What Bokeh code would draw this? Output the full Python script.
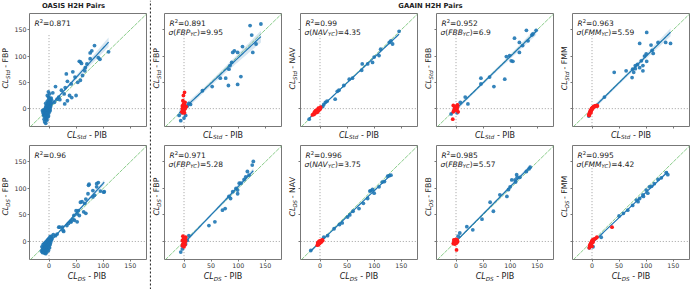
import numpy as np
from bokeh.plotting import figure
from bokeh.models import Range1d, FixedTicker, Label
from bokeh.layouts import row, column
from bokeh.embed import file_html
from bokeh.resources import INLINE
from bokeh.core.properties import value

FONT = "DejaVu Sans"
BLUE = "#1f77b4"
RED = "#ff1a1a"
GREEN = "#5cb85c"
TEXT = "#222222"
FRAME = "#777777"

X_LIM = (-36, 180)
Y_LIM = (-34, 181)
TICKS = [0, 50, 100, 150]

# ---------------- OASIS (PIB vs FBP) ----------------
oasis_std_pib = [84, 110, 76, 76, 58, 56, 60, 70, 67, 44, 32, 48, 41, 58, 34, 12, 23, 30, 50, 38,
                 34, 28, 18, 7, 91, 94, 79, 53, 62, 66, 20, 29, 42, 10, 15,
                 -8, -6, -5, -4, -3, -2, -1, 0, 1, 2, -7, -5, -3, -1, 1, 3, -9, -6, -4, -2,
                 0, 2, 4, -10, -8, -6, -4, -2, 0, -11, -7, -5, -3, -1, 1, -12, -9, -6, -4, -2,
                 -8, -6, -3, -1, 2, -5, -3, 0, 3, -2, 0, 2, 4, 5, -7, -4, -1, -9, -6, -3,
                 -1, 1, -10, -5, -2]
oasis_std_fbp = [120, 108, 106, 95, 89, 90, 86, 85, 78, 70, 66, 60, 47, 54, 52, 42, 35, 40, 25, 25,
                 15, 28, 22, 30, 97, 94, 110, 50, 63, 72, 17, 9, 21, 12, 18,
                 -25, -28, -20, -15, -12, -8, -5, -2, 3, 6, -18, -10, -6, 0, 8, 12, -14, -8, -3, 2,
                 5, 15, 20, -12, -6, -2, 4, 10, 18, -8, 0, 6, 14, 22, 28, -4, -10, -14, -22, -16,
                 -2, 3, -1, 12, -4, -6, 8, 10, 4, -12, -8, 0, 9, 16, -12, -9, -14, -20, 10, 25,
                 32, 20, -3, 1, 5]

oasis_ds_pib = [73, 88, 88, 81, 101, 95, 72, 84, 81, 68, 58, 66, 68, 54, 52, 46, 40, 52, 25, 27,
                18, 8, 91, 102, 74, 61, 64, 50, 56, 47, 41, 20, 26, 12, 15, 33, 36, 44,
                -10, -8, -6, -5, -4, -3, -2, -1, 0, 1, 2, 3, -12, -9, -7, -5, -3, -1, 1, 4,
                -13, -10, -8, -6, -4, -2, 0, 2, 5, -11, -9, -7, -5, -3, -1, -14, -11, -6, -4, -2,
                0, 2, 3, -8, -5, -3, -1, 1, -7, -2, 0, 2, -6, -9, -4, 4, 5, -12, -1, 1]
oasis_ds_fbp = [106, 109, 103, 96, 93, 95, 90, 87, 84, 80, 74, 72, 53, 58, 52, 49, 37, 37, 27, 19,
                27, 13, 111, 94, 108, 75, 56, 58, 49, 40, 37, 27, 21, 11, 14, 30, 34, 42,
                -20, -22, -18, -15, -12, -10, -8, -5, -3, 0, 2, 5, -16, -14, -12, -9, -6, -2, 3, 8,
                -10, -10, -8, -6, -4, -1, 1, 6, 10, -6, -4, -2, 0, 2, 4, -18, -13, -23, -20, -14,
                -10, -6, -2, -15, -3, -12, -8, -4, -7, 3, 6, 9, -11, -18, -16, 2, 4, -21, -17, -12]

# ---------------- GAAIN, standard centiloid ----------------
std_fbp_pib = [122, 142, 125, 133, 127, 108, 93, 90, 99, 85, 88, 83, 77, 67, 82, 99, 105, 52, 34,
               9, -9, -6, 3, 6, 12, -4, 0]
std_fbp_val = [158, 161, 140, 123, 107, 118, 110, 107, 107, 82, 88, 75, 58, 58, 44, 46, 61, 42, 34,
               10, -13, -23, -13, 5, 8, -8, -18]
std_fbp_yc_pib = [1, -1, -2, 0, -3, -1, 1, 2, -2, 0, 3, -4, 1, -1, 2, 0, -3, 4, -2, 1]
std_fbp_yc_val = [31, 25, 15, 10, 5, 3, 6, 0, -2, -4, 2, -6, -8, 8, 12, -1, 0, 4, -8, 2]

std_nav_pib = [146, 131, 134, 128, 112, 109, 97, 88, 78, 77, 54, 44, 35, 32, 28, 10, 7, -20, 13,
               5, 60, 100]
std_nav_val = [147, 129, 123, 126, 113, 101, 88, 85, 85, 73, 56, 44, 35, 33, 18, 12, 8, -20, 14,
               4, 58, 98]
std_nav_yc_pib = [-14, -12, -10, -9, -8, -7, -6, -5, -4, -3, -2, -1, 0, 1, -11, -6, -4, -2, 0,
                  -8, -10, -3, 1, -5]
std_nav_yc_val = [-12, -10, -9, -7, -8, -5, -6, -4, -3, -2, -1, 0, 1, 2, -11, -3, -5, -3, -1,
                  -4, -6, 1, 3, -7]

std_fbb_pib = [148, 142, 130, 117, 108, 123, 133, 117, 102, 99, 93, 105, 90, 62, 70, 46, 46, 17,
               22, 8, -9, 2, 140]
std_fbb_val = [149, 142, 149, 126, 134, 120, 129, 107, 91, 101, 99, 90, 56, 60, 42, 58, 47, 22,
               9, 12, -10, -8, 140]
std_fbb_yc_pib = [-5, -4, -3, -2, -1, 0, 1, 2, 3, -5, -3, -1, 1, 2, 4, -2, 0, 1, -6, 3]
std_fbb_yc_val = [-6, -4, -2, 0, 1, 2, 4, 6, 7, 6, 4, 2, -1, -3, -6, -3, -2, 1, -20, 3]

std_fmm_pib = [101, 88, 122, 136, 145, 109, 111, 113, 100, 97, 91, 101, 94, 88, 94, 80, 75, 77,
               74, 63, 41, 23, -6, 84, 80]
std_fmm_val = [145, 124, 126, 126, 124, 121, 111, 105, 104, 100, 91, 90, 82, 78, 72, 82, 75, 69,
               59, 72, 69, 22, -14, 84, 76]
std_fmm_yc_pib = [-6, -5, -4, -4, -3, -3, -2, -2, -1, -1, 0, 0, 1, 2, 3, 5, 7, 9, 10, -5, 1, 4, -2]
std_fmm_yc_val = [-12, -10, -9, -7, -6, -4, -3, -5, -2, 0, 1, -1, 2, 3, 4, 5, 5, 6, 5, -13, 0, 3, -8]

# ---------------- GAAIN, direct scaling ----------------
ds_fbp_pib = [128, 126, 117, 114, 111, 102, 96, 99, 90, 99, 86, 83, 76, 71, 57, 46, 9, -6, -3, 3,
              6, 105, 120]
ds_fbp_val = [151, 144, 132, 122, 117, 110, 100, 97, 94, 90, 81, 85, 62, 59, 37, 30, 11, -20, -14,
              -5, 2, 110, 125]
ds_fbp_yc_pib = [-3, -2, -1, 0, 1, 2, 3, -2, 0, 1, -1, 2, 0, -3, 3, -1, 1, 2]
ds_fbp_yc_val = [-8, -5, -3, 0, 2, 5, 8, 10, 7, -2, 4, -6, -10, 2, 1, -7, 5, 0]

ds_nav_pib = [131, 125, 119, 109, 97, 100, 94, 88, 72, 61, 51, 41, 26, 14, 7, -17, 92, 55, 36, 80,
              115, 128]
ds_nav_val = [125, 123, 113, 103, 98, 91, 96, 81, 62, 57, 46, 35, 24, 11, 8, -17, 95, 50, 32, 72,
              112, 124]
ds_nav_yc_pib = [-5, -4, -3, -2, -1, 0, 1, 2, 3, 4, 5, -3, -1, 1, 3, -2, 0, 2, -4]
ds_nav_yc_val = [-7, -5, -4, -3, -2, -1, 0, 1, 2, 3, 2, -6, -4, -2, 0, 0, 1, -1, -2]

ds_fbb_pib = [137, 130, 112, 113, 109, 118, 103, 97, 94, 81, 69, 63, 48, 31, 20, 7, 4, -4, 135,
              110, 100]
ds_fbb_val = [140, 132, 126, 121, 116, 121, 116, 98, 85, 88, 57, 74, 42, 22, 28, 16, 10, -3, 137,
              112, 103]
ds_fbb_yc_pib = [-5, -4, -3, -2, -1, 0, 1, 2, 3, -3, -1, 0, 1, -2, 2, 1, -4, 0]
ds_fbb_yc_val = [-4, -2, 0, 2, 3, 4, 1, -1, 0, -3, -1, 0, -3, -5, 3, -16, 3, -2]

ds_fmm_pib = [137, 140, 122, 115, 106, 100, 103, 94, 88, 85, 75, 66, 58, 50, 17, 110, 128, -5, 2,
              95, 82]
ds_fmm_val = [130, 126, 117, 109, 103, 97, 91, 88, 81, 75, 68, 59, 53, 48, 8, 104, 120, -12, -10,
              85, 78]
ds_fmm_yc_pib = [-5, -4, -3, -3, -2, -2, -1, -1, 0, 0, 1, 1, 2, 3, 5, 7, 9, 37, -4, 0, 2]
ds_fmm_yc_val = [-12, -10, -8, -5, -6, -3, -4, -1, -2, 1, 0, 3, 2, 4, 5, 6, 8, 27, -7, -9, -1]

# Fit statistics printed in each panel
r2_std = ["0.871", "0.891", "0.99", "0.952", "0.963"]
r2_ds = ["0.96", "0.971", "0.996", "0.985", "0.995"]
sigma_std = [None, "9.95", "4.35", "6.9", "5.59"]
sigma_ds = [None, "5.28", "3.75", "5.57", "4.42"]
tracers = ["FBP", "FBP", "NAV", "FBB", "FMM"]

# DejaVu Sans advance widths (em) used to chain rich-text pieces
ADV = {' ': 0.318, '(': 0.390, ')': 0.390, '=': 0.838, '.': 0.318, '-': 0.361,
       'C': 0.698, 'L': 0.557, 'S': 0.635, 't': 0.392, 'd': 0.635, 'D': 0.770, 'P': 0.603,
       'I': 0.295, 'B': 0.686, 'F': 0.575, 'N': 0.748, 'A': 0.684, 'V': 0.684, 'M': 0.863,
       'Y': 0.611, 'R': 0.695, '\u03c3': 0.634}
for d in "0123456789":
    ADV[d] = 0.636

SUB = -0.2    # subscript drop, in em of the parent font
SUP = 0.38    # superscript rise
MID = 0.346   # height of the em-box middle above the baseline (DejaVu Sans)


def text_w(s, size):
    return sum(ADV.get(c, 0.6) for c in s) * size


def layout_pieces(pieces, size, anchor):
    """Return (text, italic, font size, along-offset, baseline shift) for chained pieces."""
    widths = [text_w(t, size * sc) for t, it, sc, sh in pieces]
    pos = -sum(widths) / 2 if anchor == "center" else 0.0
    out = []
    for (t, it, sc, sh), w in zip(pieces, widths):
        lead = len(t) - len(t.lstrip(" "))
        fs = size * sc
        out.append((t.strip(" "), it, fs, pos + text_w(" " * lead, fs), sh * size, sc))
        pos += w
    return out


def rich_label(p, pieces, x, y, size):
    """Math-style text inside a plot frame, placed in screen pixels."""
    for t, it, fs, along, shift, sc in layout_pieces(pieces, size, "left"):
        p.add_layout(Label(text=t, x=x + along, y=y + shift, x_units="screen", y_units="screen",
                           text_font=FONT, text_font_size=f"{fs:.2f}px",
                           text_font_style="italic" if it else "normal",
                           text_color=TEXT, text_align="left", text_baseline="alphabetic"))


def rich_glyphs(s, pieces, x, y, size, vertical=False):
    """Math-style axis title drawn as middle-anchored text glyphs in a pixel strip.

    (x, y) is the middle line of the full-size text."""
    for t, it, fs, along, shift, sc in layout_pieces(pieces, size, "center"):
        mshift = shift + MID * size * (sc - 1.0)
        if vertical:
            px, py, ang = x - mshift, y + along, np.pi / 2
        else:
            px, py, ang = x + along, y + mshift, 0.0
        s.text(x=[px], y=[py], text=[t], angle=ang, text_font=value(FONT),
               text_font_size=f"{fs:.2f}px", text_font_style="italic" if it else "normal",
               text_color=TEXT, text_align="left", text_baseline="middle")


def cl_label(measure, tracer):
    return [("CL", True, 1.0, 0), (measure, True, 0.7, SUB), (f" - {tracer}", False, 1.0, 0)]


def regression(x, y):
    x = np.asarray(x, float)
    y = np.asarray(y, float)
    b, a = np.polyfit(x, y, 1)
    xs = np.linspace(x.min(), x.max(), 60)
    yhat = a + b * xs
    n = len(x)
    s = np.sqrt(np.sum((y - (a + b * x)) ** 2) / (n - 2))
    sxx = np.sum((x - x.mean()) ** 2)
    se = s * np.sqrt(1.0 / n + (xs - x.mean()) ** 2 / sxx)
    return xs, yhat, yhat - 1.96 * se, yhat + 1.96 * se


def strip(width, height):
    s = figure(width=width, height=height, x_range=Range1d(0, width), y_range=Range1d(0, height),
               output_backend="svg", toolbar_location=None, x_axis_type=None, y_axis_type=None,
               min_border=0, outline_line_color=None,
               background_fill_color="white", border_fill_color="white")
    s.grid.visible = False
    return s


TICK_FONT = "6.3px"


def panel(px, py, yc_x, yc_y, r2, sigma, tracer, measure, col, first_row):
    strip_w = 11
    left = 16 if col == 0 else 2
    right = {0: 3, 4: 5}.get(col, 6)
    fw = 119 if col == 0 else 117
    fh = 113 if first_row else 114
    bottom = 3 if first_row else 11
    p = figure(width=left + fw + right, height=fh + bottom,
               x_range=Range1d(*X_LIM), y_range=Range1d(*Y_LIM),
               output_backend="svg", toolbar_location=None,
               min_border_left=left, min_border_right=right,
               min_border_top=0, min_border_bottom=bottom,
               background_fill_color="white", border_fill_color="white")
    p.grid.visible = False
    p.outline_line_color = FRAME
    p.outline_line_width = 1
    for ax in (p.xaxis[0], p.yaxis[0]):
        ax.ticker = FixedTicker(ticks=TICKS)
        ax.axis_line_color = None
        ax.major_tick_line_color = FRAME
        ax.major_tick_out = 2
        ax.major_tick_in = 0
        ax.minor_tick_line_color = None
        ax.major_label_text_font = FONT
        ax.major_label_text_font_size = TICK_FONT
        ax.major_label_text_color = "#333333"
        ax.major_label_standoff = 1
    hidden = []
    if first_row:
        hidden.append(p.xaxis[0])
    if col != 0:
        hidden.append(p.yaxis[0])
    for ax in hidden:
        ax.major_label_overrides = {t: "" for t in TICKS}
        ax.major_label_text_font_size = "0px"
        ax.major_label_standoff = 0

    # identity and zero reference lines
    p.line([X_LIM[0] - 5, X_LIM[1] + 5], [X_LIM[0] - 5, X_LIM[1] + 5],
           line_color=GREEN, line_width=0.8, line_dash="4 1", line_alpha=0.9)
    p.line([X_LIM[0] - 5, X_LIM[1] + 5], [0, 0], line_color="#888888",
           line_width=0.8, line_dash="1 2")
    p.line([0, 0], [Y_LIM[0] - 5, 142], line_color="#888888",
           line_width=0.8, line_dash="1 2")

    all_x = list(px) + list(yc_x)
    all_y = list(py) + list(yc_y)
    xs, yhat, lo, hi = regression(all_x, all_y)
    p.scatter(px, py, size=3.8, color=BLUE, alpha=0.9, line_width=0)
    p.varea(x=xs, y1=lo, y2=hi, fill_color=BLUE, fill_alpha=0.18)
    p.line(xs, yhat, line_color=BLUE, line_width=1.2)
    if len(yc_x):
        p.scatter(yc_x, yc_y, size=3.8, color=RED, line_width=0)

    # fit statistics inside the frame
    rich_label(p, [("R", True, 1.0, 0), ("2", False, 0.7, SUP), (f"={r2}", False, 1.0, 0)],
               5, fh - 10, 7.5)
    if sigma is not None:
        rich_label(p, [("\u03c3", True, 1.0, 0), ("(", False, 1.0, 0), (tracer, True, 1.0, 0),
                       ("YC", True, 0.7, SUB), (f")={sigma}", False, 1.0, 0)],
                   4, fh - 19, 7.5)

    # y-axis title strip on the left
    ys = strip(strip_w, fh + bottom)
    rich_glyphs(ys, cl_label(measure, tracer), 5.2, bottom + fh / 2, 7.8, vertical=True)

    # x-axis title strip underneath
    xs_h = 16 if first_row else 19
    total_w = strip_w + left + fw + right
    xs_fig = strip(total_w, xs_h)
    rich_glyphs(xs_fig, cl_label(measure, "PIB"), strip_w + left + fw / 2,
                10.5 if first_row else 13.2, 8)
    return column(row(ys, p), xs_fig)


def header(width, label, cx):
    h = strip(width, 13)
    h.text(x=[cx], y=[8], text=[label], text_font=value(FONT), text_font_style="bold",
           text_font_size="6.8px", text_align="center", text_baseline="middle",
           text_color=TEXT)
    return h


std_sets = [(oasis_std_pib, oasis_std_fbp, [], []),
            (std_fbp_pib, std_fbp_val, std_fbp_yc_pib, std_fbp_yc_val),
            (std_nav_pib, std_nav_val, std_nav_yc_pib, std_nav_yc_val),
            (std_fbb_pib, std_fbb_val, std_fbb_yc_pib, std_fbb_yc_val),
            (std_fmm_pib, std_fmm_val, std_fmm_yc_pib, std_fmm_yc_val)]
ds_sets = [(oasis_ds_pib, oasis_ds_fbp, [], []),
           (ds_fbp_pib, ds_fbp_val, ds_fbp_yc_pib, ds_fbp_yc_val),
           (ds_nav_pib, ds_nav_val, ds_nav_yc_pib, ds_nav_yc_val),
           (ds_fbb_pib, ds_fbb_val, ds_fbb_yc_pib, ds_fbb_yc_val),
           (ds_fmm_pib, ds_fmm_val, ds_fmm_yc_pib, ds_fmm_yc_val)]

top = [panel(*std_sets[i], r2_std[i], sigma_std[i], tracers[i], "Std", i, True) for i in range(5)]
bot = [panel(*ds_sets[i], r2_ds[i], sigma_ds[i], tracers[i], "DS", i, False) for i in range(5)]

# dotted divider between the OASIS and GAAIN blocks
sep = strip(2, 289)
sep.line([1, 1], [0, 289], line_color="#333333", line_width=1.4, line_dash="2 2")

left_block = column(header(149, "OASIS H2H Pairs", 73), top[0], bot[0])
right_block = column(header(543, "GAAIN H2H Pairs", 279), row(*top[1:]), row(*bot[1:]))
layout = row(left_block, sep, right_block)

with open("out.html", "w") as f:
    f.write(file_html(layout, INLINE))
